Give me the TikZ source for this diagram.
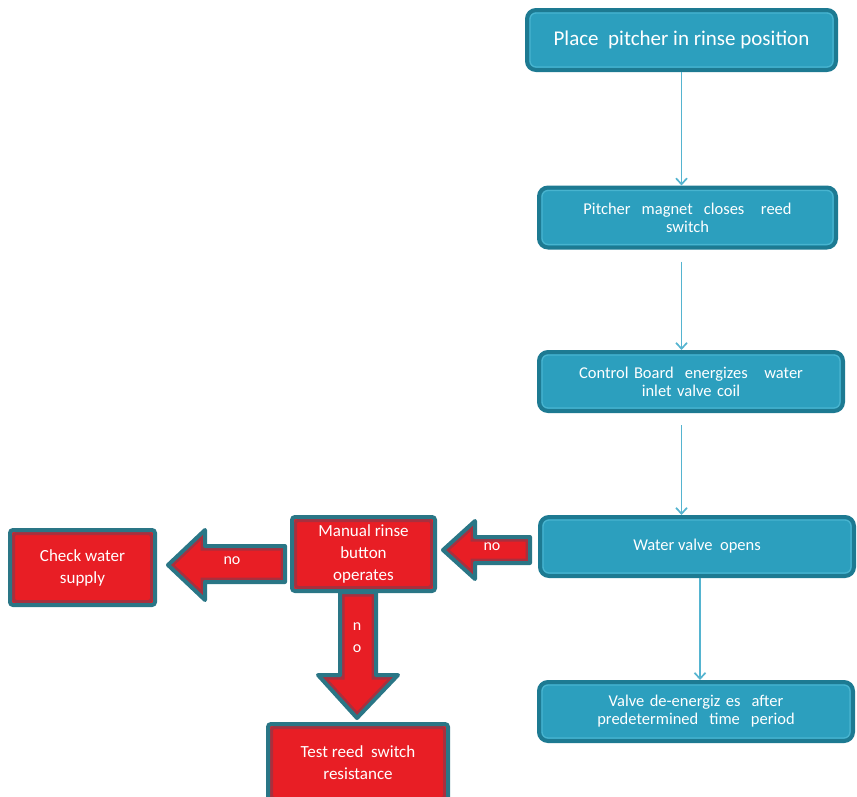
\documentclass[tikz,border=0pt]{standalone}
\usepackage{fontspec}
\setmainfont{Carlito}
\usetikzlibrary{arrows.meta,calc}
\definecolor{bfill}{HTML}{2C9FBE}
\definecolor{bdark}{HTML}{1D7A92}
\definecolor{blight}{HTML}{48B4CF}
\definecolor{rfill}{HTML}{E81E25}
\definecolor{rteal}{HTML}{2A7686}
\definecolor{rmaroon}{HTML}{A8303E}
\definecolor{conn}{HTML}{55B4D0}
\newcommand\blockarr[1]{%
  \begin{scope}\clip #1;\fill[rfill] #1;\draw[rmaroon,line width=9pt] #1;\end{scope}
  \draw[rteal,line width=4pt,line join=round] #1;}
\tikzset{
  bluebox/.style={draw=bdark,line width=4pt,fill=bfill,rounded corners=9pt,
    text=white,align=center,font=\fontsize{16.5}{18}\selectfont,inner sep=2pt,
    path picture={\draw[blight,line width=1.3pt,rounded corners=6pt]
      ([shift={(3pt,-3pt)}]path picture bounding box.north west) rectangle
      ([shift={(-3pt,3pt)}]path picture bounding box.south east);}},
  redbox/.style={draw=rteal,line width=4pt,fill=rfill,rounded corners=3pt,
    text=white,align=center,font=\fontsize{17}{22}\selectfont,inner sep=2pt,
    path picture={\draw[rmaroon,line width=3pt]
      ([shift={(3.5pt,-3.5pt)}]path picture bounding box.north west) rectangle
      ([shift={(-3.5pt,3.5pt)}]path picture bounding box.south east);}},
  thin/.style={conn,line width=1.7pt,-{Straight Barb[length=6pt,width=11pt]}},
  arrlabel/.style={text=white,font=\fontsize{16}{18}\selectfont}
}
\begin{document}
\begin{tikzpicture}[x=1pt,y=-1pt]
\useasboundingbox (0,0) rectangle (857,796);
\clip (0,0) rectangle (857,796);
% blue process boxes
\node[bluebox,minimum width=309pt,minimum height=60pt,font=\fontsize{21}{23}\selectfont] (b1) at (681.5,40) {Place\ \ pitcher in rinse position};
\node[bluebox,minimum width=297pt,minimum height=60pt,text width=260pt] (b2) at (687.5,217.5) {Pitcher\ \ magnet\ \ closes\ \ \ reed\\switch};
\node[bluebox,minimum width=304pt,minimum height=59pt,text width=270pt] (b3) at (691,381.5) {Control Board\ \ energizes\ \ \ water\\inlet valve coil};
\node[bluebox,minimum width=314pt,minimum height=59pt] (b4) at (697,546.5) {Water\ valve\ \ opens};
\node[bluebox,minimum width=314pt,minimum height=59pt,text width=270pt] (b5) at (696,711.5) {Valve\ de-energiz es\ \ after\\predetermined\ \ time\ \ period};
% red boxes
\node[redbox,minimum width=145pt,minimum height=75pt] (cw) at (82.5,567.5) {Check water\\supply};
\node[redbox,minimum width=143pt,minimum height=74pt] (mr) at (363.5,554) {Manual rinse\\button\\operates};
\node[redbox,minimum width=180pt,minimum height=78pt] (tr) at (358,763) {Test reed\ \ switch\\resistance};
% thin connectors
\draw[thin] (b1.south) -- (b1.south |- b2.north);
\draw[thin,shorten <=12pt] (b1.south |- b2.south) -- (b1.south |- b3.north);
\draw[thin,shorten <=12pt] (b1.south |- b3.south) -- (b1.south |- b4.north);
\draw[thin] ([xshift=3pt]b4.south) -- ([xshift=3pt]b4.south |- b5.north);
% block arrows
\coordinate (a1) at (443,550);
\blockarr{(a1) -- (475,521) -- (475,537) -- (530,537) -- (530,563) -- (475,563) -- (475,579) -- cycle}
\node[arrlabel] (n1) at (492,547) {no};
\coordinate (a2) at (168,565);
\blockarr{(a2) -- (205,530) -- (205,546) -- (285,546) -- (285,582) -- (205,582) -- (205,600) -- cycle}
\node[arrlabel] (n2) at (232,561) {no};
\coordinate (a3) at (357,718);
\blockarr{(340,592) -- (376,592) -- (376,675) -- (398,675) -- (a3) -- (318,675) -- (340,675) -- cycle}
\node[arrlabel,align=center] (n3) at (357,638) {n\\[4pt]o};
\end{tikzpicture}
\end{document}
